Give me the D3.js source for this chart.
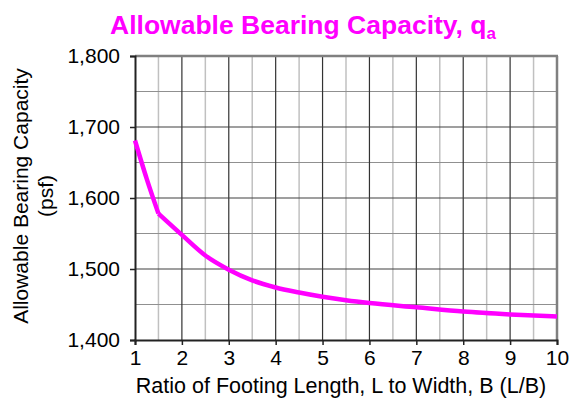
<!DOCTYPE html>
<html>
<head>
<meta charset="UTF-8">
<script src="https://cdn.jsdelivr.net/npm/d3@7"></script>
<style>
body { margin: 0; background: #fff; }
text { font-family: "Liberation Sans", Arial, sans-serif; }
</style>
</head>
<body>
<script>

// values
var ratioLB = [1, 1.25, 1.5, 2, 2.5, 3, 3.5, 4, 4.5, 5, 5.5, 6, 7, 8, 9, 10];
var qaPsf = [1681, 1627, 1578, 1548, 1519, 1499, 1484, 1474, 1467, 1461, 1456, 1452, 1446, 1440, 1436, 1433];
var xTicks = [1, 2, 3, 4, 5, 6, 7, 8, 9, 10];
var yTicks = [1400, 1500, 1600, 1700, 1800];

var width = 580, height = 412;
var pLeft = 135, pRight = 557, pTop = 56, pBottom = 340;

var svg = d3.select('body')
    .append('svg')
    .attr('width', width)
    .attr('height', height);

var x = d3.scaleLinear().domain([1, 10]).range([pLeft, pRight]);
var y = d3.scaleLinear().domain([1400, 1800]).range([pBottom, pTop]);

// grid - minor first, then major on top
var grid = svg.append('g');
grid.selectAll('.vminor')
    .data(d3.range(1.5, 10, 1))
    .enter().append('line')
    .attr('x1', d => x(d)).attr('x2', d => x(d))
    .attr('y1', pTop).attr('y2', pBottom)
    .attr('stroke', '#c0c0c0').attr('stroke-width', 1.5);
grid.selectAll('.hminor')
    .data(d3.range(1450, 1800, 100))
    .enter().append('line')
    .attr('x1', pLeft).attr('x2', pRight)
    .attr('y1', d => y(d)).attr('y2', d => y(d))
    .attr('stroke', '#909090').attr('stroke-width', 1.2);
grid.selectAll('.vmajor')
    .data(xTicks.slice(1, -1))
    .enter().append('line')
    .attr('x1', d => x(d)).attr('x2', d => x(d))
    .attr('y1', pTop).attr('y2', pBottom)
    .attr('stroke', '#333').attr('stroke-width', 1.2);
grid.selectAll('.hmajor')
    .data(yTicks.slice(1, -1))
    .enter().append('line')
    .attr('x1', pLeft).attr('x2', pRight)
    .attr('y1', d => y(d)).attr('y2', d => y(d))
    .attr('stroke', '#404040').attr('stroke-width', 1.2);

// frame: top and right gray
svg.append('line').attr('x1', pLeft).attr('x2', pRight + 1).attr('y1', pTop).attr('y2', pTop)
    .attr('stroke', '#808080').attr('stroke-width', 2.5);
svg.append('line').attr('x1', pRight).attr('x2', pRight).attr('y1', pTop).attr('y2', pBottom)
    .attr('stroke', '#808080').attr('stroke-width', 2.5);

// axes
var xAxis = svg.append('g')
    .attr('transform', 'translate(0,' + pBottom + ')')
    .call(d3.axisBottom(x).tickValues(xTicks).tickSize(5).tickPadding(5).tickFormat(d3.format('d')));
var yAxis = svg.append('g')
    .attr('transform', 'translate(' + pLeft + ',0)')
    .call(d3.axisLeft(y).tickValues(yTicks).tickSize(5).tickPadding(10).tickFormat(d3.format(',')));

[xAxis, yAxis].forEach(function(a) {
    a.select('.domain').attr('stroke', '#222').attr('stroke-width', 2);
    a.selectAll('.tick line').attr('stroke', '#222').attr('stroke-width', 1.5);
    a.selectAll('.tick text')
        .attr('fill', '#000')
        .style('font-family', '"Liberation Sans", Arial, sans-serif')
        .style('font-size', '21px');
});

// the curve - smoothed, with the break at L/B = 1.5 like the original
var line = d3.line()
    .x(d => x(d[0]))
    .y(d => y(d[1]))
    .curve(d3.curveMonotoneX);

var pts = ratioLB.map((r, i) => [r, qaPsf[i]]);
var breakAt = ratioLB.indexOf(1.5);

svg.selectAll('.qa')
    .data([pts.slice(0, breakAt + 1), pts.slice(breakAt)])
    .enter().append('path')
    .attr('d', line)
    .attr('fill', 'none')
    .attr('stroke', '#ff00ff')
    .attr('stroke-width', 4.5)
    .attr('stroke-linejoin', 'round');

// titles
var title = svg.append('text')
    .attr('x', 303)
    .attr('y', 34)
    .attr('text-anchor', 'middle')
    .attr('fill', '#ff00ff')
    .style('font-weight', 'bold')
    .style('font-size', '26.5px');
title.append('tspan').text('Allowable Bearing Capacity, q');
title.append('tspan').attr('dy', 5).style('font-size', '17px').text('a');

svg.append('text')
    .attr('x', 341)
    .attr('y', 393)
    .attr('text-anchor', 'middle')
    .style('font-size', '21.5px')
    .text('Ratio of Footing Length, L to Width, B (L/B)');

var ytitle = svg.append('text')
    .attr('transform', 'translate(28,' + 196 + ') rotate(-90)')
    .attr('text-anchor', 'middle')
    .style('font-size', '21px');
ytitle.append('tspan').attr('x', 0).attr('dy', 0).text('Allowable Bearing Capacity');
ytitle.append('tspan').attr('x', 0).attr('dy', 25).text('(psf)');

</script>
</body>
</html>
